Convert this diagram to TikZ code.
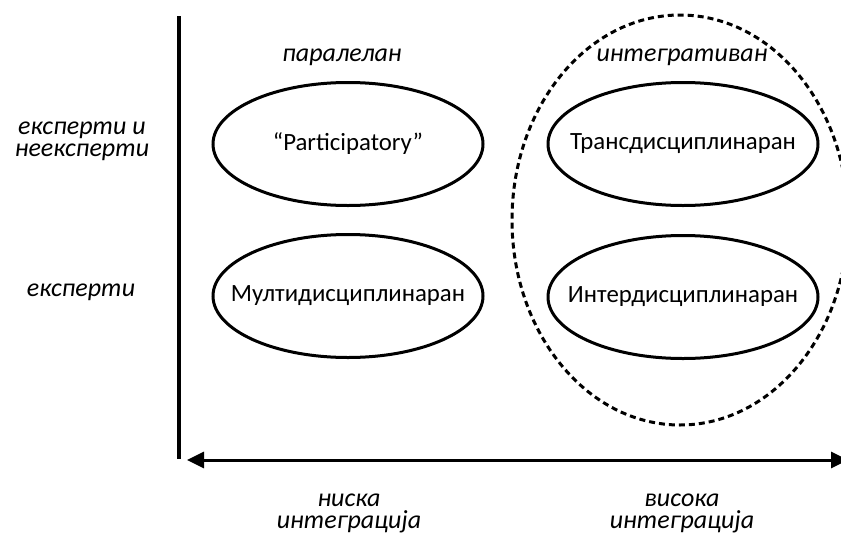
\documentclass[tikz,border=0pt]{standalone}
\usepackage{fontspec}
\setmainfont{Carlito}
\usetikzlibrary{arrows.meta}
\usetikzlibrary{shapes.geometric}

\begin{document}
\begin{tikzpicture}[x=0.5pt, y=-0.5pt,
    every node/.style={font=\fontsize{13}{11}\selectfont},
    kind/.style={ellipse, draw, line width=1.5pt, inner sep=0pt, minimum width=135pt, minimum height=61.5pt,
      label={[font=\fontsize{12.4}{14}\selectfont]center:#1}},
    axislabel/.style={align=center, font=\fontsize{13}{11}\selectfont\itshape},
    group/.style={ellipse, draw, line width=1.5pt, dash pattern=on 3pt off 2pt, inner sep=0pt, minimum width=168pt, minimum height=205pt}]
      \useasboundingbox (0,0) rectangle (841,536);

      % integration group
      \node[group] (integr) at (680,220) {};

      \node[kind={``Participatory''}] (particip) at (348,144) {};
      \node[kind=Мултидисциплинаран] (multi) at (348,296) {};
      \node[kind=Трансдисциплинаран] (trans) at (683,144) {};
      \node[kind=Интердисциплинаран] (inter) at (683,297) {};

      \node[axislabel] (paral) at (342,57) {паралелан};
      \node[axislabel] (integrlbl) at (682,57) {интегративан};
      \node[axislabel] (both) at (82,141) {експерти и\\неексперти};
      \node[axislabel] (experts) at (81,292) {експерти};
      \node[axislabel] (low) at (349,513) {ниска\\интеграција};
      \node[axislabel] (high) at (682,513) {висока\\интеграција};

      \coordinate (ytop) at (179,16);
      \coordinate (ybot) at (179,459);
      \coordinate (xleft) at (187,460);
      \coordinate (xright) at (848,460);

      \draw[line width=1.6pt] (ytop) -- (ybot);
      \draw[line width=1.5pt, {Triangle[length=8.5pt, width=8pt]}-{Triangle[length=8.5pt, width=8pt]}] (xleft) -- (xright);
    \end{tikzpicture}
\end{document}
